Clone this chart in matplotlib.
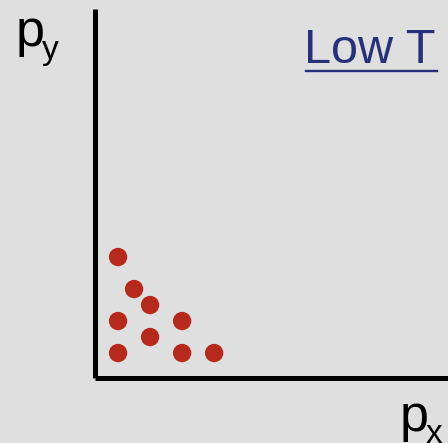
import matplotlib
matplotlib.use("Agg")
import matplotlib.pyplot as plt
from matplotlib.lines import Line2D

# momentum-space occupied states at low temperature
px = [1, 2, 3, 1, 5, 3, 1, 5, 7]
py = [7, 5, 4, 3, 3, 2, 1, 1, 1]

bg = "#dfdfdf"
red = "#b52a1d"
blue = "#27317a"

plt.rcParams['font.family'] = ['Liberation Sans', 'DejaVu Sans']

W, H = 448, 443
fig = plt.figure(figsize=(W / 100, H / 100), dpi=100, facecolor=bg)
ax = fig.add_axes([94.5 / W, (H - 377.5) / H, (W - 94.5) / W, (377.5 - 9) / H])
ax.set_facecolor(bg)

ax.scatter(px, py, s=175, color=red, edgecolors='none', zorder=3)

ax.set_xlim(-0.47, 21.6)
ax.set_ylim(-0.53, 22.5)
for side in ['top', 'right']:
    ax.spines[side].set_visible(False)
for side in ['left', 'bottom']:
    ax.spines[side].set_linewidth(3.6)
    ax.spines[side].set_color('black')
    ax.spines[side].set_capstyle('butt')
ax.set_xticks([])
ax.set_yticks([])


def px_pt(x, y):
    # pixel position (from top-left) -> figure fraction
    return x / W, 1 - y / H


# axis labels: big "p" with a smaller subscript
fig.text(*px_pt(15.5, 46), 'p', fontsize=37.5, ha='left', va='baseline')
fig.text(*px_pt(41.5, 59), 'y', fontsize=24, ha='left', va='baseline')
fig.text(*px_pt(399.5, 431), 'p', fontsize=37.5, ha='left', va='baseline')
fig.text(*px_pt(425.5, 443), 'x', fontsize=24, ha='left', va='baseline')

fig.text(*px_pt(303.5, 63), 'Low T', fontsize=35, color=blue, ha='left', va='baseline')
fig.add_artist(Line2D([306 / W, 437 / W], [1 - 70.5 / H, 1 - 70.5 / H],
                      color=blue, linewidth=1.7))

fig.savefig('out.png', dpi=100, facecolor=bg)
